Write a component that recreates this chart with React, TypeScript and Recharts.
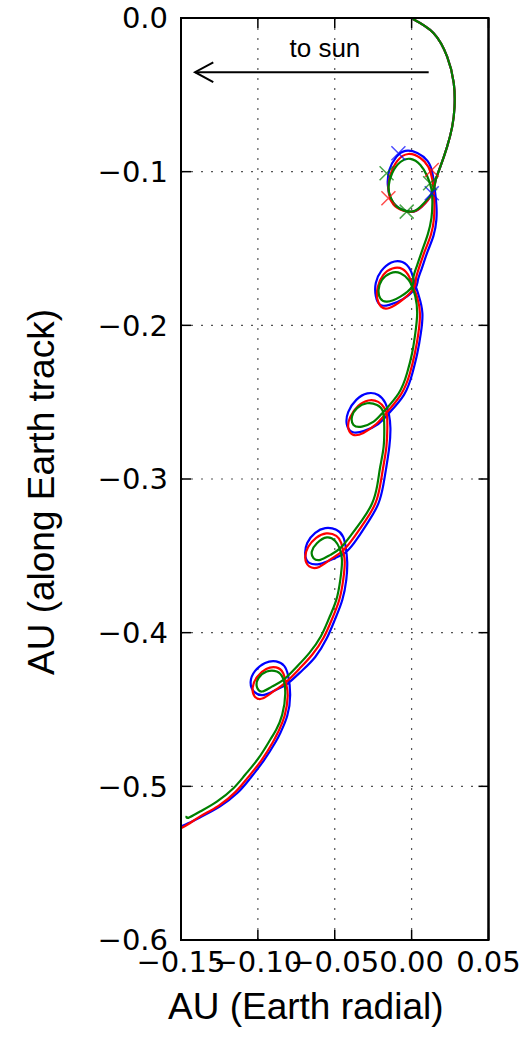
import React from 'react';
import { ComposedChart, Line, Scatter, XAxis, YAxis, CartesianGrid, ReferenceArea } from 'recharts';

// axis ticks
const xTicks = [-0.15, -0.1, -0.05, 0, 0.05];
const xTickLabels = ['\u22120.15', '\u22120.10', '\u22120.05', '0.00', '0.05'];
const yTicks = [-0.6, -0.5, -0.4, -0.3, -0.2, -0.1, 0];
const yTickLabels = ['\u22120.6', '\u22120.5', '\u22120.4', '\u22120.3', '\u22120.2', '\u22120.1', '0.0'];

// trajectories [x (AU Earth radial), y (AU along Earth track)]
const blueTrack = [
  [0.0008, -0.0007], [0.0142, -0.0098], [0.0231, -0.0252], [0.0274, -0.0423], [0.0279, -0.0579], [0.0264, -0.0707], [0.0231, -0.0837], [0.0187, -0.0967], [0.0155, -0.1061],
  [0.0135, -0.1139], [0.0064, -0.123], [-0.0008, -0.1262], [-0.0093, -0.123], [-0.0138, -0.1171], [-0.0155, -0.1087], [-0.0145, -0.0989], [-0.0099, -0.0904], [-0.0041, -0.0865], [0.0037, -0.0878], [0.0103, -0.093], [0.0135, -0.1008], [0.0151, -0.1119],
  [0.0161, -0.1217], [0.0161, -0.1314], [0.0142, -0.1418], [0.0103, -0.1522], [0.0067, -0.1627], [0.0041, -0.1705],
  [0.0024, -0.1757], [-0.0054, -0.1828], [-0.0145, -0.1867], [-0.0204, -0.1867], [-0.0233, -0.1809], [-0.0233, -0.1724], [-0.0197, -0.1646], [-0.0132, -0.1591], [-0.006, -0.1588], [-0.0008, -0.164], [0.0018, -0.1718], [0.0047, -0.1809], [0.007, -0.1921], [0.006, -0.2051], [0.0037, -0.2182], [0.0005, -0.2312], [-0.005, -0.2453],
  [-0.0151, -0.2576], [-0.0217, -0.2642], [-0.0308, -0.2687], [-0.0386, -0.2694], [-0.0422, -0.2642], [-0.0412, -0.2563], [-0.036, -0.2485], [-0.0288, -0.2443], [-0.0217, -0.2453], [-0.0171, -0.2505], [-0.0148, -0.2576], [-0.0138, -0.2668], [-0.0145, -0.2789], [-0.0164, -0.2919], [-0.0184, -0.3038], [-0.0217, -0.3162], [-0.0282, -0.3279], [-0.0353, -0.3387],
  [-0.0425, -0.3474], [-0.051, -0.352], [-0.0594, -0.3552], [-0.0666, -0.3546], [-0.0692, -0.3494], [-0.0679, -0.3416], [-0.0627, -0.3351], [-0.0562, -0.332], [-0.049, -0.3331], [-0.0445, -0.3377], [-0.0428, -0.3448], [-0.0419, -0.3539], [-0.0425, -0.3656], [-0.0451, -0.3787], [-0.0497, -0.391], [-0.0552, -0.4037], [-0.0627, -0.4158], [-0.0715, -0.4249],
  [-0.0809, -0.4333], [-0.0881, -0.4372], [-0.0959, -0.4405], [-0.1024, -0.4385], [-0.1047, -0.432], [-0.1018, -0.4249], [-0.0953, -0.4197], [-0.0881, -0.4187], [-0.0829, -0.4216], [-0.0803, -0.4281], [-0.079, -0.4405], [-0.0809, -0.4541], [-0.0849, -0.4642], [-0.0884, -0.471], [-0.0963, -0.4834], [-0.105, -0.4948], [-0.1132, -0.5042], [-0.1246, -0.513], [-0.1363, -0.5195], [-0.1454, -0.5241], [-0.152, -0.527],
];

const redTrack = [
  [0.0008, -0.0007], [0.0142, -0.0098], [0.0231, -0.0252], [0.0274, -0.0423], [0.0279, -0.0579], [0.0264, -0.0707], [0.0231, -0.0837], [0.0187, -0.0967], [0.0155, -0.1061],
  [0.0135, -0.1139], [0.0064, -0.123], [-0.0008, -0.1262], [-0.0093, -0.1236], [-0.0138, -0.1178], [-0.0151, -0.1106], [-0.0138, -0.1021], [-0.0093, -0.093], [-0.0021, -0.0885], [0.0057, -0.0911], [0.0109, -0.0969], [0.0135, -0.1054], [0.0145, -0.1152],
  [0.0148, -0.121], [0.0145, -0.1308], [0.0125, -0.1412], [0.0086, -0.1516], [0.005, -0.162], [0.0028, -0.1698],
  [0.0015, -0.1757], [-0.006, -0.1835], [-0.0145, -0.1887], [-0.0197, -0.188], [-0.0223, -0.1828], [-0.022, -0.175], [-0.0184, -0.1672], [-0.0125, -0.163], [-0.006, -0.1633], [-0.0015, -0.1685], [0.0011, -0.175], [0.0037, -0.1822], [0.0054, -0.1921], [0.0044, -0.2051], [0.0021, -0.2182], [-0.0011, -0.2312], [-0.0067, -0.2446],
  [-0.0164, -0.257], [-0.023, -0.2642], [-0.0314, -0.27], [-0.0379, -0.2713], [-0.0412, -0.2668], [-0.0399, -0.2596], [-0.0347, -0.2524], [-0.0282, -0.2489], [-0.0217, -0.2498], [-0.0178, -0.2537], [-0.0161, -0.2583], [-0.0158, -0.2668], [-0.0164, -0.2789], [-0.0184, -0.2919], [-0.0204, -0.3038], [-0.0236, -0.3159], [-0.0301, -0.3273], [-0.0373, -0.3377],
  [-0.0445, -0.3465], [-0.0523, -0.352], [-0.0601, -0.3572], [-0.0666, -0.3569], [-0.0692, -0.3513], [-0.0673, -0.3442], [-0.0621, -0.3383], [-0.0555, -0.3354], [-0.049, -0.337], [-0.0458, -0.3416], [-0.0445, -0.3474], [-0.0435, -0.3539], [-0.0445, -0.3656], [-0.0471, -0.3787], [-0.0516, -0.3907], [-0.0572, -0.4031], [-0.0647, -0.4144], [-0.0731, -0.4236],
  [-0.0822, -0.4327], [-0.0894, -0.4379], [-0.0966, -0.4427], [-0.1018, -0.4418], [-0.1034, -0.4359], [-0.1005, -0.4288], [-0.0946, -0.4236], [-0.0881, -0.4226], [-0.0836, -0.4262], [-0.0816, -0.4333], [-0.0806, -0.4411], [-0.0826, -0.4541], [-0.0865, -0.4639], [-0.0901, -0.471], [-0.0979, -0.4834], [-0.1067, -0.4945], [-0.1145, -0.5036], [-0.1256, -0.5127], [-0.137, -0.5192], [-0.1454, -0.5247], [-0.152, -0.5283],
];

const greenTrack = [
  [0.0008, -0.0007], [0.0142, -0.0098], [0.0231, -0.0252], [0.0274, -0.0423], [0.0279, -0.0579], [0.0264, -0.0707], [0.0231, -0.0837], [0.0187, -0.0967], [0.0155, -0.1061],
  [0.0132, -0.1139], [0.0057, -0.1228], [-0.0008, -0.126], [-0.0095, -0.1228], [-0.0138, -0.1163], [-0.015, -0.1098], [-0.0127, -0.101], [-0.0073, -0.0937], [-0.0008, -0.0917], [0.0057, -0.0956], [0.0101, -0.1028], [0.0129, -0.1113],
  [0.0135, -0.1204], [0.0129, -0.1301], [0.0106, -0.1405], [0.007, -0.1509], [0.0034, -0.1614], [0.0011, -0.1692],
  [0.0003, -0.1748], [-0.0073, -0.1813], [-0.016, -0.1846], [-0.0204, -0.1824], [-0.0215, -0.177], [-0.0193, -0.1705], [-0.0138, -0.1661], [-0.0073, -0.1661], [-0.0019, -0.1705], [0.0003, -0.1748], [0.0024, -0.1813], [0.0036, -0.1921], [0.0024, -0.2051], [0.0003, -0.2182], [-0.003, -0.2312], [-0.0084, -0.2442],
  [-0.0182, -0.2562], [-0.0247, -0.2627], [-0.0323, -0.2659], [-0.0378, -0.2648], [-0.0388, -0.2594], [-0.0355, -0.2539], [-0.029, -0.2507], [-0.0225, -0.2518], [-0.0186, -0.2562], [-0.0178, -0.2659], [-0.0182, -0.2789], [-0.0204, -0.2919], [-0.0223, -0.3038], [-0.0256, -0.3156], [-0.0321, -0.3266], [-0.0393, -0.3364],
  [-0.0464, -0.345], [-0.0529, -0.3494], [-0.0594, -0.3526], [-0.0638, -0.3515], [-0.0649, -0.3472], [-0.0616, -0.3418], [-0.0551, -0.338], [-0.0497, -0.3403], [-0.0469, -0.345], [-0.0453, -0.3526], [-0.0464, -0.3656], [-0.049, -0.3787], [-0.0536, -0.3904], [-0.0591, -0.4025], [-0.0666, -0.4133], [-0.0746, -0.4221],
  [-0.0834, -0.4307], [-0.0909, -0.4351], [-0.0974, -0.4383], [-0.1007, -0.4351], [-0.0996, -0.4296], [-0.0942, -0.4253], [-0.0877, -0.4253], [-0.0837, -0.4296], [-0.0822, -0.4398], [-0.0842, -0.4535], [-0.0881, -0.4632], [-0.092, -0.4697], [-0.0996, -0.4817], [-0.1083, -0.4925], [-0.1159, -0.5012], [-0.1267, -0.5099], [-0.1376, -0.5164], [-0.1452, -0.5205], [-0.1464, -0.5192],
];

// 'x' markers on the first loop
const blueMarks = [[-0.0086, -0.088], [0.0131, -0.1141]];
const redMarks = [[-0.0151, -0.1173], [0.0131, -0.0989]];
const greenMarks = [[-0.0163, -0.101], [-0.0032, -0.126], [0.012, -0.1075]];

// "to sun" annotation
const arrowShaft = [[0.0111, -0.0353], [-0.1409, -0.0353]];
const arrowHead = [[-0.129, -0.0288], [-0.1409, -0.0353], [-0.129, -0.0418]];
const sunNote = [[-0.0564, -0.0256]];

const toPts = (arr: number[][]) => arr.map(([x, y]) => ({ x, y }));

const labelFor = (ticks: number[], labels: string[], v: number) => {
  let best = 0;
  ticks.forEach((t, i) => {
    if (Math.abs(t - v) < Math.abs(ticks[best] - v)) best = i;
  });
  return labels[best];
};

const TICK_FONT = 'DejaVu Sans, sans-serif';
const LABEL_FONT = 'Liberation Sans, Arial, sans-serif';
const TL = 10;

const BottomTick = (p: any) => (
  <g>
    <line x1={p.x} x2={p.x} y1={p.y} y2={p.y - TL} stroke="#000" strokeWidth={1.5} />
    <text x={p.x} y={p.y + 32} textAnchor="middle" fontFamily={TICK_FONT} fontSize={29} fill="#000">
      {labelFor(xTicks, xTickLabels, p.payload.value)}
    </text>
  </g>
);
const TopTick = (p: any) => (
  <line x1={p.x} x2={p.x} y1={p.y} y2={p.y + TL} stroke="#000" strokeWidth={1.5} />
);
const LeftTick = (p: any) => (
  <g>
    <line x1={p.x} x2={p.x + TL} y1={p.y} y2={p.y} stroke="#000" strokeWidth={1.5} />
    <text x={p.x - 13} y={p.y} dy="0.36em" textAnchor="end" fontFamily={TICK_FONT} fontSize={29} fill="#000">
      {labelFor(yTicks, yTickLabels, p.payload.value)}
    </text>
  </g>
);
const RightTick = (p: any) => (
  <line x1={p.x} x2={p.x - TL} y1={p.y} y2={p.y} stroke="#000" strokeWidth={1.5} />
);

const XTitle = (p: any) => {
  const vb = p.viewBox || { x: 181, y: 940, width: 307.5, height: 106 };
  return (
    <text x={vb.x + vb.width / 2 - 29} y={vb.y + 79} textAnchor="middle" fontFamily={LABEL_FONT} fontSize={37} fill="#000">
      AU (Earth radial)
    </text>
  );
};
const YTitle = (p: any) => {
  const vb = p.viewBox || { x: 0, y: 18, width: 181, height: 922 };
  const cx = vb.x + 53.5;
  const cy = vb.y + vb.height / 2 + 13;
  return (
    <text x={cx} y={cy} transform={`rotate(-90, ${cx}, ${cy})`} textAnchor="middle" fontFamily={LABEL_FONT} fontSize={37} fill="#000">
      AU (along Earth track)
    </text>
  );
};

const xMark = (color: string) => (p: any) => {
  const { cx, cy } = p;
  if (cx == null || cy == null) return <g />;
  const s = 7;
  return (
    <path d={`M${cx - s},${cy - s}L${cx + s},${cy + s}M${cx - s},${cy + s}L${cx + s},${cy - s}`} stroke={color} strokeWidth={1.5} strokeOpacity={0.7} fill="none" />
  );
};

const noteShape = (p: any) => (
  <text x={p.cx} y={p.cy} textAnchor="middle" fontFamily={LABEL_FONT} fontSize={26} fill="#000">
    to sun
  </text>
);

const axisLine = { stroke: '#000', strokeWidth: 2 };

export default function App() {
  return (
    <div style={{ position: 'absolute', left: 0, top: 0, width: 527, height: 1046, background: '#fff' }}>
      <ComposedChart width={527} height={1046} margin={{ top: 17, right: 37.5, bottom: 0, left: 0 }}>
        <CartesianGrid stroke="#555" strokeDasharray="2 8" strokeWidth={1.2} />
        <XAxis
          type="number" dataKey="x" domain={[-0.15, 0.05]} ticks={xTicks} allowDataOverflow
          height={106} tickSize={0} tickMargin={0} axisLine={axisLine} tickLine={false}
          tick={BottomTick} interval={0} label={XTitle}
        />
        <XAxis
          xAxisId="top" orientation="top" type="number" dataKey="x" domain={[-0.15, 0.05]} ticks={xTicks} allowDataOverflow
          height={1} tickSize={0} tickMargin={0} axisLine={axisLine} tickLine={false} tick={TopTick} interval={0}
        />
        <YAxis
          type="number" dataKey="y" domain={[-0.6, 0]} ticks={yTicks} allowDataOverflow
          width={181} tickSize={0} tickMargin={0} axisLine={axisLine} tickLine={false}
          tick={LeftTick} interval={0} label={YTitle}
        />
        <YAxis
          yAxisId="right" orientation="right" type="number" dataKey="y" domain={[-0.6, 0]} ticks={yTicks} allowDataOverflow
          width={1} tickSize={0} tickMargin={0} axisLine={axisLine} tickLine={false} tick={RightTick} interval={0}
        />
        <ReferenceArea x1={-0.15} x2={0.05} y1={-0.6} y2={0} fill="none" fillOpacity={0} stroke="#000" strokeWidth={2} />
        <Line data={toPts(arrowShaft)} dataKey="y" type="linear" stroke="#000" strokeWidth={2} dot={false} activeDot={false} isAnimationActive={false} />
        <Line data={toPts(arrowHead)} dataKey="y" type="linear" stroke="#000" strokeWidth={2} dot={false} activeDot={false} isAnimationActive={false} />
        <Scatter data={toPts(sunNote)} dataKey="y" shape={noteShape} isAnimationActive={false} />
        <Line data={toPts(blueTrack)} dataKey="y" type="natural" stroke="#0000ff" strokeWidth={2.2} dot={false} activeDot={false} isAnimationActive={false} />
        <Line data={toPts(redTrack)} dataKey="y" type="natural" stroke="#ff0000" strokeWidth={2.2} dot={false} activeDot={false} isAnimationActive={false} />
        <Line data={toPts(greenTrack)} dataKey="y" type="natural" stroke="#008000" strokeWidth={2.2} dot={false} activeDot={false} isAnimationActive={false} />
        <Scatter data={toPts(blueMarks)} dataKey="y" shape={xMark('#0000ff')} isAnimationActive={false} />
        <Scatter data={toPts(redMarks)} dataKey="y" shape={xMark('#ff0000')} isAnimationActive={false} />
        <Scatter data={toPts(greenMarks)} dataKey="y" shape={xMark('#008000')} isAnimationActive={false} />
      </ComposedChart>
    </div>
  );
}
